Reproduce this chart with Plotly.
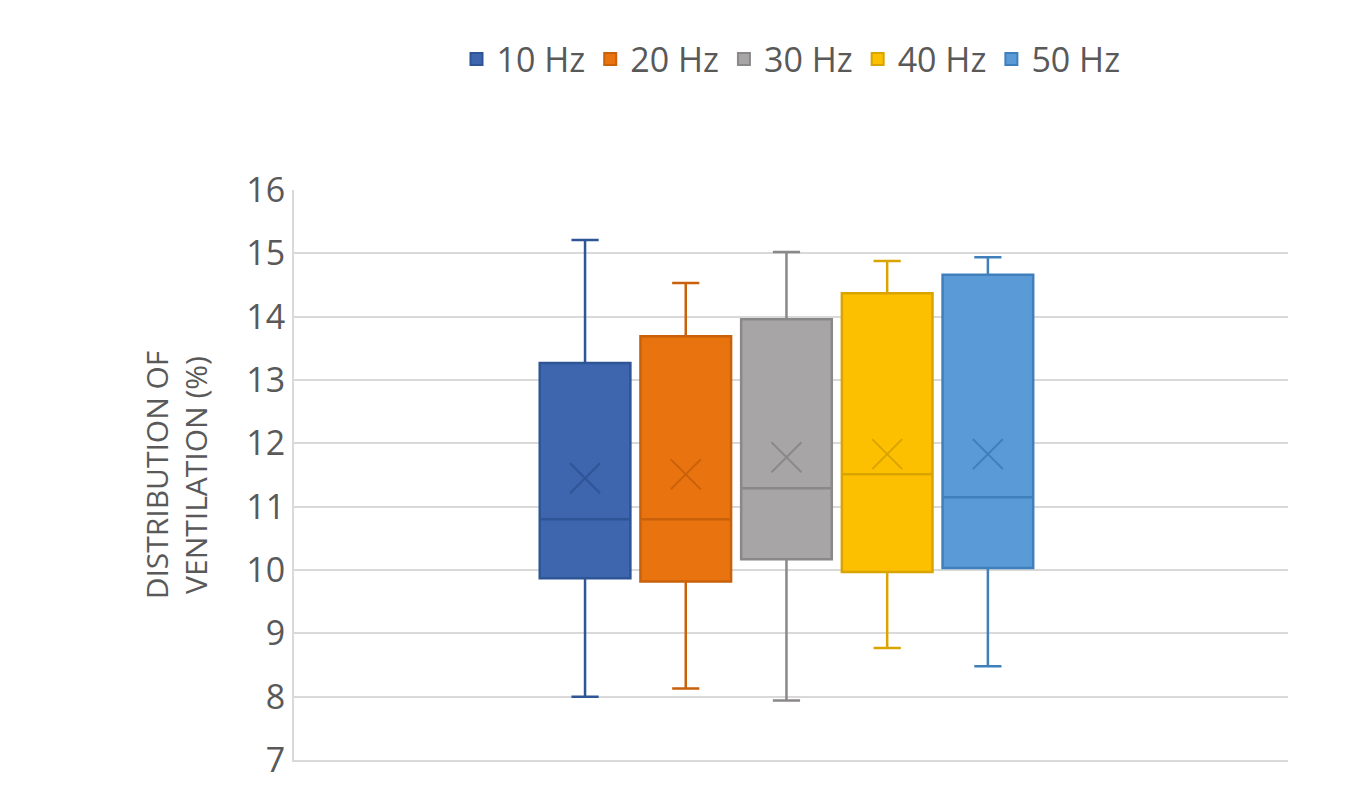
import plotly.graph_objects as go

names = ["10 Hz", "20 Hz", "30 Hz", "40 Hz", "50 Hz"]
upper = [15.21, 14.53, 15.02, 14.88, 14.94]
q3 = [13.27, 13.69, 13.96, 14.37, 14.66]
median = [10.80, 10.80, 11.29, 11.51, 11.15]
q1 = [9.87, 9.82, 10.17, 9.97, 10.03]
lower = [8.00, 8.13, 7.94, 8.77, 8.48]
mean = [11.45, 11.51, 11.78, 11.83, 11.83]

fills = ["#3D66AF", "#E9740F", "#A7A5A5", "#FDC000", "#5A9AD6"]
edges = ["#2E5596", "#C9600A", "#8A8888", "#D9A400", "#3F7FBC"]

fig = go.Figure()
for i, n in enumerate(names):
    fig.add_trace(go.Box(
        x=[i], q1=[q1[i]], median=[median[i]], q3=[q3[i]],
        lowerfence=[lower[i]], upperfence=[upper[i]], name=n,
        fillcolor=fills[i], line=dict(color=edges[i], width=2.5),
        width=0.9, whiskerwidth=0.3, boxpoints=False,
    ))
    fig.add_trace(go.Scatter(
        x=[i], y=[mean[i]], mode="markers", showlegend=False, hoverinfo="skip",
        marker=dict(symbol="x-thin-open", size=30, color=edges[i],
                    line=dict(color=edges[i], width=2)),
    ))

fig.update_layout(
    width=1362, height=800, plot_bgcolor="white", paper_bgcolor="white",
    margin=dict(l=286, r=82, t=182, b=48),
    font=dict(family="Open Sans, DejaVu Sans", color="#595959"),
    legend=dict(orientation="h", x=0.5, xanchor="center", y=1.28, yanchor="top",
                font=dict(size=34, color="#595959"), itemsizing="constant"),
    xaxis=dict(range=[-2.89, 6.98], showticklabels=False, showgrid=False,
               zeroline=False, showline=True, linecolor="#D9D9D9", linewidth=2),
    yaxis=dict(range=[7, 16], dtick=1, showgrid=True, gridcolor="#D9D9D9",
               gridwidth=2, zeroline=False, showline=True, linecolor="#D9D9D9",
               linewidth=2, tickfont=dict(size=34, color="#595959"), ticks="",
               title=dict(text="DISTRIBUTION OF<br>VENTILATION (%)",
                          font=dict(size=30, color="#595959"), standoff=30)),
)
fig.write_html("out.html")
